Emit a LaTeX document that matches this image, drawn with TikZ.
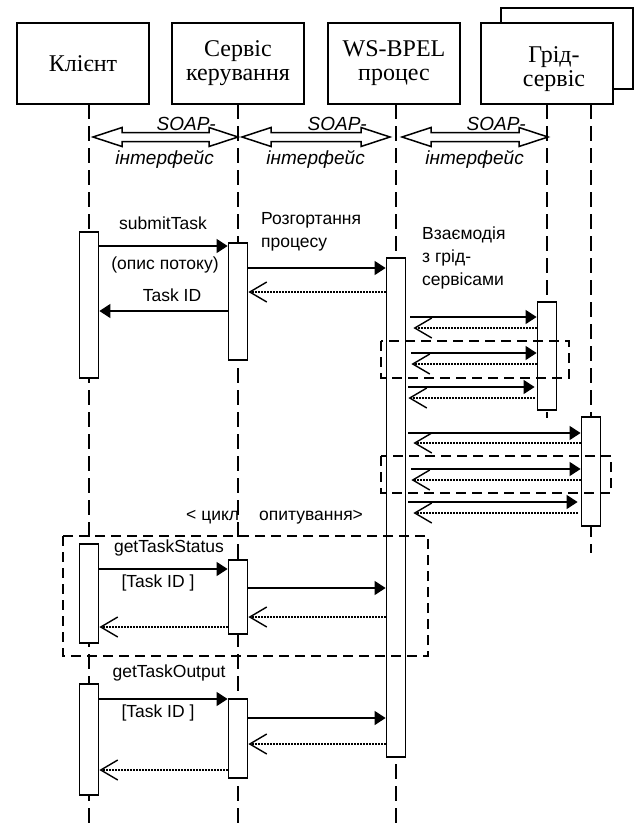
\documentclass[tikz,border=0pt]{standalone}
\usepackage{fontspec}
\setmainfont{Liberation Serif}
\newfontfamily\labelfont{Liberation Sans}
\usepackage{tikz}
\tikzset{>=latex}
\usetikzlibrary{arrows.meta}

\begin{document}
\begin{tikzpicture}[x=1pt,y=-1pt,
  head/.style={draw,line width=2pt,fill=white,minimum width=132pt,minimum height=81pt,
    align=center,font=\fontsize{24}{24}\selectfont},
  headtxt/.style={align=center,inner sep=0pt,font=\fontsize{24}{24}\selectfont},
  act/.style={draw,line width=1.8pt,fill=white,minimum width=19pt,inner sep=0pt},
  life/.style={line width=2pt,dash pattern=on 15pt off 7pt},
  frame/.style={line width=2pt,dash pattern=on 10pt off 6pt},
  call/.style={line width=1.3pt,-{Triangle[length=11pt,width=14pt]}},
  reply/.style={line width=1.3pt,dash pattern=on 1.3pt off 1.7pt,
    -{Straight Barb[length=17pt,width=20pt,line width=1.4pt]}},
  soap/.style={line width=1.5pt,fill=white,line join=miter},
  lbl/.style={inner sep=0pt,align=left,font=\labelfont\fontsize{17.5}{23}\selectfont},
  soaplbl/.style={inner sep=0pt,font=\labelfont\itshape\fontsize{19}{19}\selectfont}]
  \useasboundingbox (0,0) rectangle (636,823);

  % help functions

        % activation bar on a lifeline: name, x, top, bottom
  \def\actBar(#1,#2,#3,#4){\node[act,minimum height={(#4-#3)*1pt}] (#1) at (#2,{(#3+#4)/2}) {};}
        % synchronous call and dotted reply between two bars
  \def\callArrow[#1](#2,#3,#4){\draw[call,#1] (#2 |- 0,#4) -- (#3 |- 0,#4);}
  \def\replyArrow[#1](#2,#3,#4){\draw[reply,#1] (#2 |- 0,#4) -- (#3 |- 0,#4);}
        % hollow SOAP double arrow
  \def\soapArrow(#1,#2,#3){
    \draw[soap] (#1,#3) -- ++(29,-9.5) -- ++(0,5) -- ({#2-29},{#3-4.5}) -- ++(0,-5)
      -- (#2,#3) -- ++(-29,9.5) -- ++(0,-5) -- ({#1+29},{#3+4.5}) -- ++(0,5) -- cycle;}

  % lifelines
  \draw[life] (89,104) -- (89,823);
  \draw[life] (238,104) -- (238,823);
  \draw[life] (396,104) -- (396,823);
  \draw[life] (547,104) -- (547,418);
  \draw[life] (591,104) -- (591,553);

  % header boxes
  \node[head] (cl) at (83,63.5) {Клієнт};
  \node[head] (sv) at (238,63.5) {Сервіс\\керування};
  \node[head] (bp) at (394,63.5) {WS-BPEL\\процес};
  \node[head] (grb) at (567,48.5) {};
  \node[head] (gr) at (547,63.5) {};
  \node[headtxt] (grt) at (554,69) {Грід-\\сервіс};

  % SOAP interfaces
  \soapArrow(93,238,137)
  \soapArrow(242,390,137)
  \soapArrow(402,548,137)
  \foreach \r in {239,390,549}{
    \node[soaplbl,anchor=east] at ({\r-23},124) {SOAP-};
    \node[soaplbl,anchor=east] at ({\r-25},159) {інтерфейс};
  }

  % activation bars
  \actBar(clA,89,232,378)
  \actBar(svA,238,243,360)
  \actBar(bpA,396,258,757)
  \actBar(grA,547,302,410)
  \actBar(grB,591,417,526)
  \actBar(clB,89,544,643)
  \actBar(svB,238,560,634)
  \actBar(clC,89,684,795)
  \actBar(svC,238,699,778)

  % submit
  \callArrow[](clA.east,svA.west,246)
  \callArrow[](svA.west,clA.east,311)
  \callArrow[](svA.east,bpA.west,268)
  \replyArrow[](bpA.west,svA.east,292)

  % grid services
  \callArrow[shorten <=4pt](bpA.east,grA.west,317)
  \replyArrow[shorten >=7pt](grA.west,bpA.east,328)
  \callArrow[shorten <=5pt](bpA.east,grA.west,353)
  \replyArrow[shorten >=5pt](grA.west,bpA.east,364)
  \callArrow[shorten <=2pt,shorten >=2pt](bpA.east,grA.west,387)
  \replyArrow[shorten <=2pt,shorten >=2pt](grA.west,bpA.east,398)

  \callArrow[shorten <=2pt](bpA.east,grB.west,433)
  \replyArrow[shorten >=7pt](grB.west,bpA.east,443)
  \callArrow[shorten <=5pt](bpA.east,grB.west,469)
  \replyArrow[shorten >=5pt](grB.west,bpA.east,480)
  \callArrow[shorten <=2pt,shorten >=3pt](bpA.east,grB.west,502)
  \replyArrow[shorten <=3pt,shorten >=7pt](grB.west,bpA.east,513)

  % status polling
  \callArrow[](clB.east,svB.west,569)
  \callArrow[](svB.east,bpA.west,588)
  \replyArrow[](bpA.west,svB.east,617)
  \replyArrow[](svB.west,clB.east,627)

  % output
  \callArrow[](clC.east,svC.west,699)
  \callArrow[](svC.east,bpA.west,718)
  \replyArrow[](bpA.west,svC.east,744)
  \replyArrow[](svC.west,clC.east,770)

  % frames
  \draw[frame] (381,341) rectangle (569,378);
  \draw[frame] (381,456) rectangle (611,493);
  \draw[frame] (63,536) rectangle (428,656);

  % labels
  \node[lbl] (submit) at (163,223) {submitTask};
  \node[lbl] (flow) at (165,265) {(опис потоку)};
  \node[lbl] (taskid) at (172,295) {Task ID};
  \node[lbl,anchor=west] (deploy) at (261,232) {Розгортання\\процесу};
  \node[lbl,anchor=west] (interact) at (422,258) {Взаємодія\\з грід-\\сервісами};
  \node[lbl,anchor=west] (loop) at (186,517) {< цикл\hspace{20pt}опитування>};
  \node[lbl] (status) at (169,548) {getTaskStatus};
  \node[lbl] (idA) at (158,583) {[Task ID ]};
  \node[lbl] (output) at (169,673) {getTaskOutput};
  \node[lbl] (idB) at (158,713) {[Task ID ]};

\end{tikzpicture}
\end{document}
